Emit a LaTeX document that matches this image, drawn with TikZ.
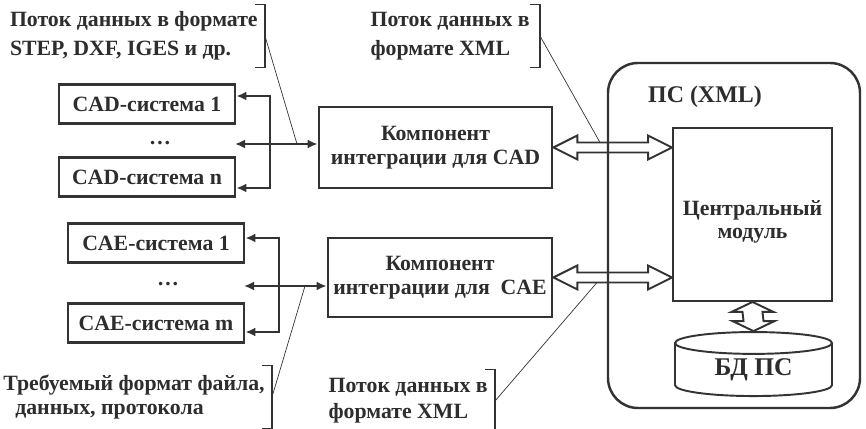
\documentclass[tikz,border=0pt]{standalone}
\usepackage{fontspec}
\setmainfont{Liberation Serif}
\usetikzlibrary{positioning, arrows.meta, calc, shapes.geometric}

\begin{document}
\begin{tikzpicture}[
    font=\bfseries\fontsize{12.4}{16.5}\selectfont,
    >={Latex[length=2mm, width=1.8mm]},
    % --- Styles ---
    sysbox/.style={draw=lineGrey, line width=1.6pt, minimum width=3.52cm, minimum height=0.78cm, inner sep=0pt, text=textGrey},
    compbox/.style={draw=lineGrey, line width=1.6pt, align=center, inner sep=0pt, text=textGrey, font=\bfseries\fontsize{12.4}{13.6}\selectfont},
    modbox/.style={draw=lineGrey, line width=1.1pt, inner sep=0pt},
    conn/.style={draw=lineGrey, line width=1.2pt},
    fatarrow/.style={draw=lineGrey, fill=white, line width=1.1pt, line join=miter},
    leader/.style={draw=lineGrey, line width=0.4pt},
    bracket/.style={draw=lineGrey, line width=0.8pt},
    label_text/.style={align=left, text=textGrey, inner xsep=0.14cm, inner ysep=0pt, minimum height=1.24cm, anchor=east}
]

    % --- Colors ---
    \definecolor{lineGrey}{RGB}{51,51,51}   % Lines
    \definecolor{textGrey}{RGB}{45,45,45}   % Text

    \useasboundingbox (0,0) rectangle (17.32,8.58);

    % ==========================
    % 1. CAD SYSTEMS
    % ==========================
    \node[sysbox] (cad1) at (2.94, 6.50) {CAD-система 1};
    \node[text=textGrey] (caddots) at (3.2, 5.72) {\dots};
    \node[sysbox] (cadn) at (2.94, 5.04) {CAD-система n};

    \coordinate (cadbus) at (5.4, 5.70);
    \coordinate (cadmid) at (4.70, 5.70);
    \coordinate (cadtap) at (5.94, 5.70);

    \draw[conn, <->] ([yshift=0.16cm]cad1.east) -| (cadbus) |- ([yshift=-0.22cm]cadn.east);

    % ==========================
    % 2. CAE SYSTEMS
    % ==========================
    \node[sysbox] (cae1) at (3.12, 3.72) {CAE-система 1};
    \node[text=textGrey] (caedots) at (3.36, 2.89) {\dots};
    \node[sysbox] (caem) at (3.12, 2.12) {CAE-система m};

    \coordinate (caebus) at (5.58, 2.86);
    \coordinate (caemid) at (4.88, 2.86);
    \coordinate (caetap) at (6.1, 2.86);

    \draw[conn, <->] ([yshift=0.1cm]cae1.east) -| (caebus) |- ([yshift=-0.18cm]caem.east);

    % ==========================
    % 3. INTEGRATION COMPONENTS
    % ==========================
    \node[compbox, minimum width=4.66cm, minimum height=1.62cm] (compcad) at (8.71, 5.63) {Компонент\\интеграции для CAD};
    \node[compbox, minimum width=4.48cm, minimum height=1.58cm] (compcae) at (8.80, 3.03) {Компонент\\интеграции для \ CAE};

    \draw[conn, <->] (cadmid) -- (cadmid -| compcad.west);
    \draw[conn, <->] (caemid) -- (caemid -| compcae.west);

    % ==========================
    % 4. PS (XML)
    % ==========================
    \node[modbox, minimum width=3.18cm, minimum height=3.46cm] (central) at (15.05, 4.29) {};
    \node[text=textGrey, align=center, font=\bfseries\fontsize{12.4}{13.2}\selectfont] (centraltext) at ([yshift=-0.14cm]central.center) {Центральный\\модуль};
    \node[cylinder, shape border rotate=90, aspect=0.28, draw=lineGrey, line width=1.1pt,
          minimum width=3.14cm, minimum height=1.28cm, inner sep=0pt, text=textGrey,
          font=\bfseries\fontsize{14.5}{16}\selectfont] (db) at (15.07, 1.18) {\raisebox{-0.18cm}{БД ПС}};

    % hollow arrows
    \draw[fatarrow] (compcad.east) -- ++(0.48,0.24) -- ++(0,-0.14)
        -- ($(central.west |- compcad.east)+(-0.48,0.1)$) -- ++(0,0.14) -- (central.west |- compcad.east)
        -- ++(-0.48,-0.24) -- ++(0,0.14) -- ($(compcad.east)+(0.48,-0.1)$) -- ++(0,-0.14) -- cycle;
    \draw[fatarrow] (compcae.east) -- ++(0.48,0.24) -- ++(0,-0.14)
        -- ($(central.west |- compcae.east)+(-0.48,0.1)$) -- ++(0,0.14) -- (central.west |- compcae.east)
        -- ++(-0.48,-0.24) -- ++(0,0.14) -- ($(compcae.east)+(0.48,-0.1)$) -- ++(0,-0.14) -- cycle;
    \draw[fatarrow] (central.south) -- ++(0.42,-0.2) -- ++(-0.22,0) -- ($(db.north)+(0.2,0.2)$)
        -- ++(0.22,0) -- (db.north) -- ++(-0.42,0.2) -- ++(0.22,0) -- ($(central.south)+(-0.2,-0.2)$)
        -- ++(-0.22,0) -- cycle;

    \node[draw=lineGrey, line width=1.4pt, rounded corners=0.6cm, minimum width=5.04cm, minimum height=6.9cm] (ps) at (14.68, 3.87) {};
    \node[text=textGrey, anchor=west, font=\bfseries\fontsize{13.6}{16}\selectfont] (pstitle) at (12.84, 6.64) {ПС (XML)};

    % ==========================
    % 5. LABELS
    % ==========================
    \node[label_text] (lblcad) at (5.3, 7.86) {Поток данных в формате\\STEP, DXF, IGES и др.};
    \node[label_text, inner xsep=0.2cm] (lblxml1) at (10.8, 7.86) {Поток данных в\\формате XML};
    \node[label_text, font=\bfseries\fontsize{12.4}{13.8}\selectfont] (lblreq) at (5.44, 0.64) {Требуемый формат файла,\\\hspace{0.24cm}данных, протокола};
    \node[label_text, font=\bfseries\fontsize{12.4}{14.8}\selectfont] (lblxml2) at (9.9, 0.56) {Поток данных в\\формате XML};

    \coordinate (xmltap1) at (12.0, 5.73);
    \coordinate (xmltap2) at (11.94, 2.93);

    \foreach \lbl in {lblcad, lblxml1, lblreq, lblxml2} {
        \draw[bracket] ([xshift=-0.2cm]\lbl.north east) -- (\lbl.north east) -- (\lbl.south east) -- ++(-0.2,0);
    }

    \draw[leader] (lblcad.east) -- (cadtap);
    \draw[leader] (lblxml1.east) -- (xmltap1);
    \draw[leader] (lblreq.east) -- (caetap);
    \draw[leader] (lblxml2.east) -- (xmltap2);

\end{tikzpicture}
\end{document}
